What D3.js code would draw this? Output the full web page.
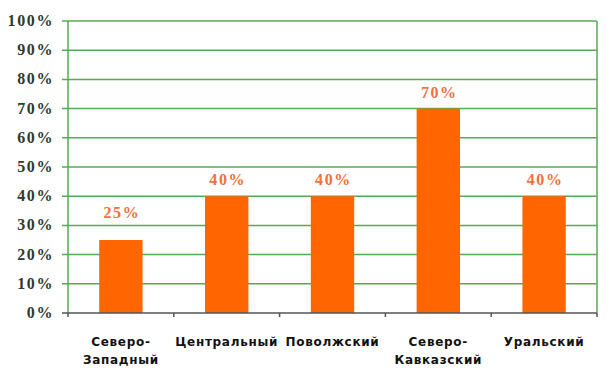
<!DOCTYPE html>
<html>
<head>
<meta charset="utf-8">
<script src="https://cdn.jsdelivr.net/npm/d3@7"></script>
<style>
  body { margin: 0; background: #fff; }
  .ylab { font-family: "Liberation Serif", serif; font-weight: bold; font-size: 16px; fill: #2f3a2f; letter-spacing: 1.6px; }
  .vlab { font-family: "Liberation Serif", serif; font-weight: bold; font-size: 16px; fill: #f2703a; letter-spacing: 1.6px; }
  .xlab { font-family: "DejaVu Sans", sans-serif; font-weight: bold; font-size: 12px; fill: #111; letter-spacing: 0.7px; }
</style>
</head>
<body>
<div class="chart"></div>
<script>
// data
var regions = [['Северо-', 'Западный'], ['Центральный'], ['Поволжский'], ['Северо-', 'Кавказский'], ['Уральский']];
var shares = [25, 40, 40, 70, 40];
var yTicks = [0, 10, 20, 30, 40, 50, 60, 70, 80, 90, 100];

var w = 612, h = 375;
var plotLeft = 68, plotRight = 597, plotTop = 21, plotBottom = 313;

var svg = d3.select('.chart').append('svg')
    .attr('width', w)
    .attr('height', h);

var x = d3.scaleBand()
    .domain(d3.range(regions.length))
    .range([plotLeft, plotRight])
    .paddingInner(0.59)
    .paddingOuter(0.295);

var y = d3.scaleLinear()
    .domain([0, 100])
    .range([plotBottom, plotTop]);

// gridlines
svg.selectAll('.grid')
    .data(yTicks.filter(function(d) { return d > 0; }))
    .enter()
    .append('line')
    .attr('x1', plotLeft - 6)
    .attr('x2', plotRight)
    .attr('y1', function(d) { return y(d); })
    .attr('y2', function(d) { return y(d); })
    .attr('stroke', '#55aa55')
    .attr('stroke-width', 1.5);

// left and right vertical lines
svg.append('line')
    .attr('x1', plotLeft).attr('x2', plotLeft)
    .attr('y1', y(100)).attr('y2', y(0))
    .attr('stroke', '#55aa55').attr('stroke-width', 1.5);
svg.append('line')
    .attr('x1', plotRight).attr('x2', plotRight)
    .attr('y1', y(100)).attr('y2', y(0))
    .attr('stroke', '#55aa55').attr('stroke-width', 1.5);

// y labels
svg.selectAll('.ylab')
    .data(yTicks)
    .enter()
    .append('text')
    .attr('class', 'ylab')
    .attr('x', 54)
    .attr('y', function(d) { return y(d) + 5; })
    .attr('text-anchor', 'end')
    .text(function(d) { return d + '%'; });

// bars
svg.selectAll('.bar')
    .data(shares)
    .enter()
    .append('rect')
    .attr('x', function(d, i) { return x(i); })
    .attr('y', function(d) { return y(d); })
    .attr('width', x.bandwidth())
    .attr('height', function(d) { return y(0) - y(d); })
    .attr('fill', '#ff6600');

// value labels
svg.selectAll('.vlab')
    .data(shares)
    .enter()
    .append('text')
    .attr('class', 'vlab')
    .attr('x', function(d, i) { return x(i) + x.bandwidth() / 2 + 1; })
    .attr('y', function(d) { return y(d) - (d < 30 ? 22 : 11); })
    .attr('text-anchor', 'middle')
    .text(function(d) { return d + '%'; });

// x axis
svg.append('line')
    .attr('x1', plotLeft - 6).attr('x2', plotRight)
    .attr('y1', y(0)).attr('y2', y(0))
    .attr('stroke', '#555').attr('stroke-width', 1.5);

var step = x.step();
svg.selectAll('.tick')
    .data(d3.range(regions.length + 1))
    .enter()
    .append('line')
    .attr('x1', function(i) { return plotLeft + i * step; })
    .attr('x2', function(i) { return plotLeft + i * step; })
    .attr('y1', y(0))
    .attr('y2', y(0) + 4)
    .attr('stroke', '#555')
    .attr('stroke-width', 1.5);

var xl = svg.selectAll('.xlab')
    .data(regions)
    .enter()
    .append('text')
    .attr('class', 'xlab')
    .attr('text-anchor', 'middle')
    .attr('x', function(d, i) { return x(i) + x.bandwidth() / 2; })
    .attr('y', 346);

xl.selectAll('tspan')
    .data(function(d, i) { return d.map(function(s) { return { s: s, i: i }; }); })
    .enter()
    .append('tspan')
    .attr('x', function(d) { return x(d.i) + x.bandwidth() / 2; })
    .attr('dy', function(d, j) { return j === 0 ? 0 : 18; })
    .text(function(d) { return d.s; });
</script>
</body>
</html>
